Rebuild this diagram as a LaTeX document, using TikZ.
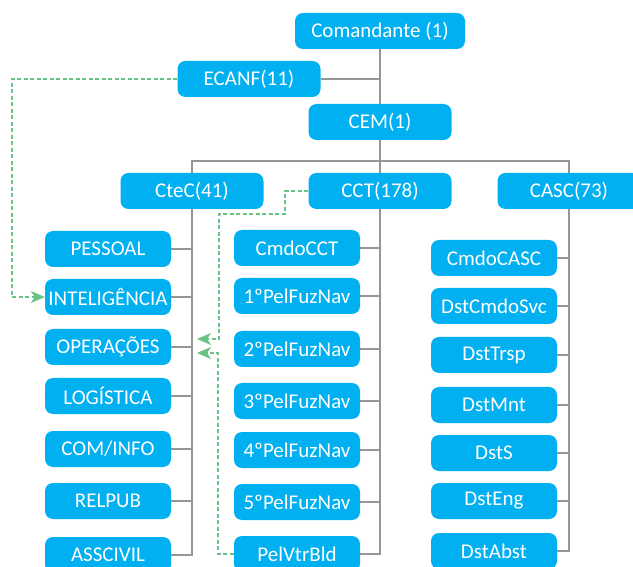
\documentclass[tikz,border=0pt]{standalone}
\usepackage{fontspec}
\setmainfont{Carlito}
\usetikzlibrary{arrows.meta,positioning}
\definecolor{boxblue}{RGB}{0,176,240}
\definecolor{linkgray}{RGB}{150,150,150}
\definecolor{refgreen}{RGB}{105,195,135}

\begin{document}
\begin{tikzpicture}[x=1pt,y=-1pt,
  unit/.style={fill=boxblue,text=white,rounded corners=8pt,minimum height=36pt,
    inner sep=0pt,font=\fontsize{21}{25}\selectfont},
  head/.style={unit,minimum width=143pt},
  sub/.style={unit,minimum width=126pt},
  link/.style={draw=linkgray,line width=1.5pt},
  ref/.style={draw=refgreen,line width=1.2pt,dash pattern=on 4pt off 2.5pt,
    -{Stealth[length=14pt,width=12pt,inset=4pt,fill=refgreen]}}]
  \useasboundingbox (0,0) rectangle (633,567);

  \node[head,minimum width=170pt] (cmd) at (380,31) {Comandante (1)};
  \node[head] (ecanf) at (249,79)  {ECANF(11)};
  \node[head] (cem)   at (380,122) {CEM(1)};
  \node[head] (ctec)  at (192,191) {CteC(41)};
  \node[head] (cct)   at (380,191) {CCT(178)};
  \node[head] (casc)  at (569,191) {CASC(73)};

  \node[sub] (pes)   at (108,249) {PESSOAL};
  \node[sub] (intel) at (108,297) {INTELIGÊNCIA};
  \node[sub] (oper)  at (108,347) {OPERAÇÕES};
  \node[sub] (log)   at (108,396) {LOGÍSTICA};
  \node[sub] (com)   at (108,449) {COM/INFO};
  \node[sub] (rel)   at (108,501) {RELPUB};
  \node[sub] (assc)  at (108,555) {ASSCIVIL};

  \node[sub] (cmdcct) at (297,248) {CmdoCCT};
  \node[sub] (pfa)    at (297,296) {1ºPelFuzNav};
  \node[sub] (pfb)    at (297,349) {2ºPelFuzNav};
  \node[sub] (pfc)    at (297,401) {3ºPelFuzNav};
  \node[sub] (pfd)    at (297,450) {4ºPelFuzNav};
  \node[sub] (pfe)    at (297,502) {5ºPelFuzNav};
  \node[sub] (vtr)    at (297,554) {PelVtrBld};

  \node[sub] (cmdcasc) at (494,258) {CmdoCASC};
  \node[sub] (svc)     at (494,306) {DstCmdoSvc};
  \node[sub] (trsp)    at (494,355) {DstTrsp};
  \node[sub] (mnt)     at (494,405) {DstMnt};
  \node[sub] (dsts)    at (494,453) {DstS};
  \node[sub] (eng)     at (494,501) {DstEng};
  \node[sub] (abst)    at (494,551) {DstAbst};

  \coordinate (bar) at (380,161);
  \draw[link] (cmd) -- (cem);
  \draw[link] (ecanf) -- (ecanf -| cmd);
  \draw[link] (cem) -- (cct);
  \draw[link] (ctec.north) |- (bar) -| (casc.north);

  \draw[link] (ctec) |- (assc);
  \foreach \n in {pes,intel,oper,log,com,rel}
    \draw[link] (\n) -- (\n -| ctec);
  \draw[link] (cct) |- (vtr);
  \foreach \n in {cmdcct,pfa,pfb,pfc,pfd,pfe}
    \draw[link] (\n) -- (\n -| cct);
  \draw[link] (casc) |- (abst);
  \foreach \n in {cmdcasc,svc,trsp,mnt,dsts,eng}
    \draw[link] (\n) -- (\n -| casc);

  \coordinate (ea) at (12,79);
  \coordinate (tipa) at (197,339);
  \coordinate (tipb) at (197,353);
  \draw[ref] (ecanf) -- (ea) |- (intel);
  \draw[ref] (cct) -| (285,214) -| (219,339) -- (tipa);
  \draw[ref] (vtr) -| (218,353) -- (tipb);
\end{tikzpicture}
\end{document}
